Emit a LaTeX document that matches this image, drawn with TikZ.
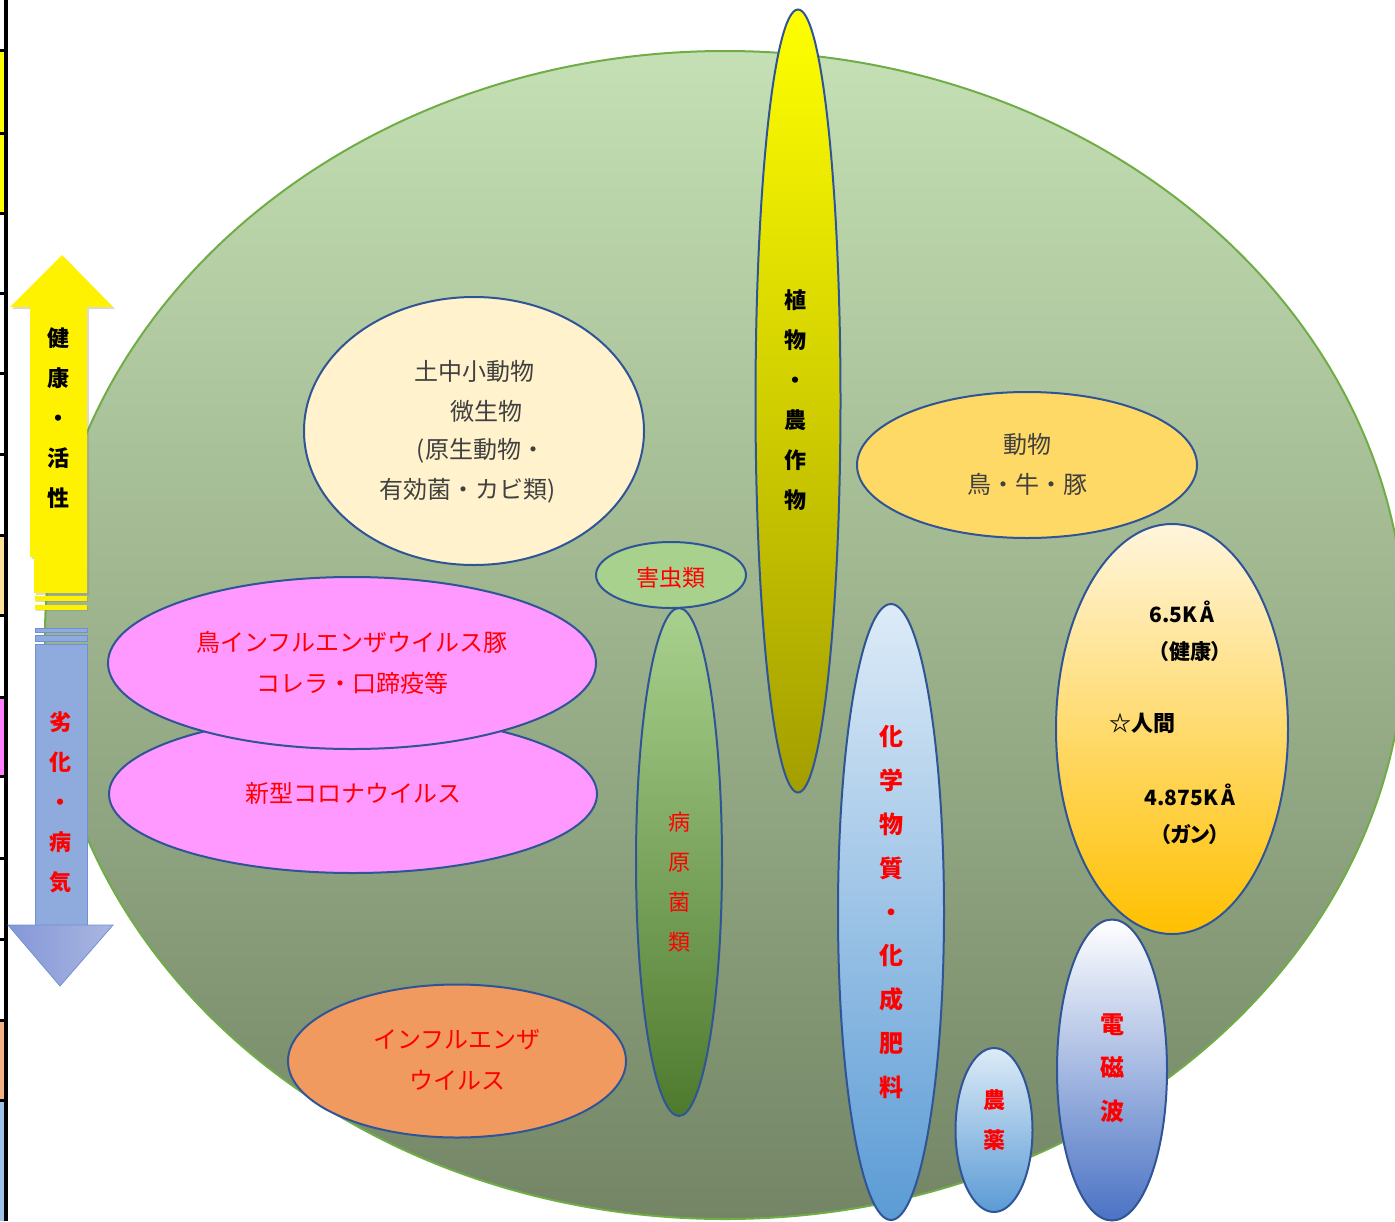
\documentclass[tikz,border=0pt]{standalone}
\usepackage{fontspec}
\setmainfont{Noto Sans CJK JP}
\newfontfamily\jpp[RawFeature=+palt]{Noto Sans CJK JP}
\usetikzlibrary{shapes.geometric,shadows}
\definecolor{edgeblue}{HTML}{2F5597}
\definecolor{worldedge}{HTML}{70AD47}
\definecolor{wtop}{HTML}{C5E0B4}
\definecolor{wmid}{HTML}{A6C190}
\definecolor{wbot}{HTML}{738565}
\definecolor{soilfill}{HTML}{FFF2CC}
\definecolor{animalfill}{HTML}{FFD966}
\definecolor{humtop}{HTML}{FFF5DC}
\definecolor{hummid}{HTML}{FFDB6E}
\definecolor{humbot}{HTML}{FFC000}
\definecolor{plantbot}{HTML}{A39E00}
\definecolor{plantmid}{HTML}{EEEC00}
\definecolor{pathtop}{HTML}{A9D18E}
\definecolor{pathmid}{HTML}{7DB356}
\definecolor{pathbot}{HTML}{4E7A2E}
\definecolor{chemtop}{HTML}{DDEBF7}
\definecolor{chemmid}{HTML}{A0C3E6}
\definecolor{chembot}{HTML}{5B9BD5}
\definecolor{emmid}{HTML}{B4C4E8}
\definecolor{embot}{HTML}{4A72C4}
\definecolor{pinkfill}{HTML}{FF99FF}
\definecolor{orangefill}{HTML}{F19A60}
\definecolor{pestfill}{HTML}{A9D18E}
\definecolor{txtgray}{HTML}{404040}
\definecolor{arrowblue}{HTML}{8FAADC}
\definecolor{arrowblueedge}{HTML}{7190D3}
\definecolor{headleft}{HTML}{8497D8}
\definecolor{headright}{HTML}{AAB6E0}
\definecolor{cellyellow}{HTML}{FFFF00}
\definecolor{cellpale}{HTML}{FFE29A}
\definecolor{cellpink}{HTML}{FF80FF}
\definecolor{cellorange}{HTML}{F4B183}
\definecolor{cellblue}{HTML}{9DC3E6}
\begin{document}
\begin{tikzpicture}[x=1pt,y=-1pt,
  blob/.style={ellipse, draw=edgeblue, line width=2pt, inner sep=0pt},
  lbl/.style={inner sep=0pt, align=center},
  gtxt/.style={lbl, text=txtgray, font=\fontsize{24}{40}\selectfont},
  rtxt/.style={lbl, text=red, font=\fontsize{24}{40}\selectfont},
  humtxt/.style={lbl, text=black, font=\fontsize{21}{40}\selectfont\bfseries},
]
\useasboundingbox (0,0) rectangle (1395,1221);
\clip (0,0) rectangle (1395,1221);

% left table border strip
\fill[cellyellow] (0,50) rectangle (4.5,213);
\fill[cellpale] (0,535) rectangle (4.5,615);
\fill[cellpink] (0,697) rectangle (4.5,776);
\fill[cellorange] (0,1020) rectangle (4.5,1100);
\fill[cellblue] (0,1100) rectangle (4.5,1221);
\draw[line width=4pt] (6,0) -- (6,1221);
\foreach \yy in {50,133,213,293,373,454,535,615,697,776,858,939,1020,1100}
  \draw[line width=3pt] (0,\yy) -- (7,\yy);

% world ellipse
\node[ellipse, draw=worldedge, line width=2pt, top color=wtop, middle color=wmid, bottom color=wbot,
      minimum width=1360pt, minimum height=1168pt, inner sep=0pt] (world) at (725,635) {};

% soil organisms
\node[blob, fill=soilfill, minimum width=340pt, minimum height=268pt] (soil) at (474,431) {};
\node[gtxt] (soil1) at (474,371) {土中小動物};
\node[gtxt] (soil2) at (486,411) {微生物};
\node[gtxt] (soil3) at (481,451) {(原生動物・};
\node[gtxt] (soil4) at (468,491) {有効菌・カビ類)};

% pathogens and pests
\node[blob, top color=pathtop, middle color=pathmid, bottom color=pathbot, minimum width=86pt, minimum height=508pt] (patho) at (679,862) {};
\node[lbl, text=red, font=\fontsize{22}{40}\selectfont] (pathot) at (679,882) {病\\原\\菌\\類};
\node[blob, fill=pestfill, minimum width=150pt, minimum height=66pt] (pest) at (671,575) {};
\node[rtxt, font=\fontsize{23}{40}\selectfont] (pestt) at (671,578) {害虫類};

% plants
\node[blob, top color=yellow, middle color=plantmid, bottom color=plantbot, minimum width=85pt, minimum height=783pt] (plant) at (798,401) {};
\node[lbl, text=black, font=\fontsize{22}{40}\selectfont\bfseries] (plantt) at (795,400) {植\\物\\・\\農\\作\\物};

% animals
\node[blob, fill=animalfill, minimum width=340pt, minimum height=146pt] (animal) at (1027,465) {};
\node[gtxt] (animal1) at (1027,444) {動物};
\node[gtxt] (animal2) at (1027,484) {鳥・牛・豚};

% human
\node[blob, top color=humtop, middle color=hummid, bottom color=humbot, minimum width=232pt, minimum height=410pt] (human) at (1172,729) {};
\node[humtxt] (hum1) at (1182,612) {6.5K\,Å};
\node[humtxt] (hum2) at (1190,652) {\jpp （健康）};
\node[humtxt, font=\fontsize{22}{40}\selectfont\bfseries] (hum3) at (1142,723) {☆人間};
\node[humtxt] (hum4) at (1190,795) {4.875K\,Å};
\node[humtxt] (hum5) at (1190,835) {\jpp （ガン）};

% chemicals
\node[blob, top color=chemtop, middle color=chemmid, bottom color=chembot, minimum width=106pt, minimum height=616pt] (chem) at (891,912) {};
\node[lbl, text=red, font=\fontsize{24}{43.9}\selectfont\bfseries] (chemt) at (891,912) {化\\学\\物\\質\\・\\化\\成\\肥\\料};

% pesticides
\node[blob, top color=chemtop, middle color=chemmid, bottom color=chembot, minimum width=77pt, minimum height=164pt] (agro) at (994,1130) {};
\node[lbl, text=red, font=\fontsize{22}{40}\selectfont\bfseries] (agrot) at (994,1120) {農\\薬};

% electromagnetic waves
\node[blob, top color=white, middle color=emmid, bottom color=embot, minimum width=110pt, minimum height=301pt] (em) at (1112,1070) {};
\node[lbl, text=red, font=\fontsize{24}{43.5}\selectfont\bfseries] (emt) at (1112,1068) {電\\磁\\波};

% viruses
\node[blob, fill=pinkfill, minimum width=488pt, minimum height=158pt] (corona) at (353,794) {};
\node[rtxt] (coronat) at (353,793) {新型コロナウイルス};
\node[blob, fill=pinkfill, minimum width=488pt, minimum height=172pt] (bird) at (352,663) {};
\node[rtxt] (bird1) at (352,642) {鳥インフルエンザウイルス豚};
\node[rtxt] (bird2) at (352,683) {コレラ・口蹄疫等};
\node[blob, fill=orangefill, minimum width=338pt, minimum height=153pt] (flu) at (457,1061) {};
\node[rtxt] (flu1) at (457,1040) {インフルエンザ};
\node[rtxt] (flu2) at (457,1080) {ウイルス};

% yellow up arrow
\fill[yellow, drop shadow={opacity=0.3, shadow xshift=2pt, shadow yshift=-2pt}]
  (62,255) -- (113,307) -- (87,307) -- (87,593) -- (34,593) -- (34,557) -- (30,557) -- (30,307) -- (10,307) -- cycle;
\fill[yellow, drop shadow={opacity=0.3, shadow xshift=1pt, shadow yshift=-1pt}] (35,596) rectangle (87,601);
\fill[yellow, drop shadow={opacity=0.3, shadow xshift=1pt, shadow yshift=-1pt}] (35,605) rectangle (87,610);
\node[lbl, text=black, font=\fontsize{22}{40}\selectfont\bfseries] (upt) at (58,418) {健\\康\\・\\活\\性};

% blue down arrow
\draw[arrowblueedge, fill=arrowblue, line width=0.8pt] (35,628) rectangle (87,632);
\draw[arrowblueedge, fill=arrowblue, line width=0.8pt] (35,635) rectangle (87,641);
\draw[arrowblueedge, fill=arrowblue, line width=0.8pt] (35,925) -- (35,644) -- (87,644) -- (87,925);
\draw[arrowblueedge, left color=headleft, right color=headright, line width=0.8pt]
  (8,925) -- (113,925) -- (60,986) -- cycle;
\node[lbl, text=red, font=\fontsize{22}{40}\selectfont\bfseries] (downt) at (60,802) {劣\\化\\・\\病\\気};
\end{tikzpicture}
\end{document}
